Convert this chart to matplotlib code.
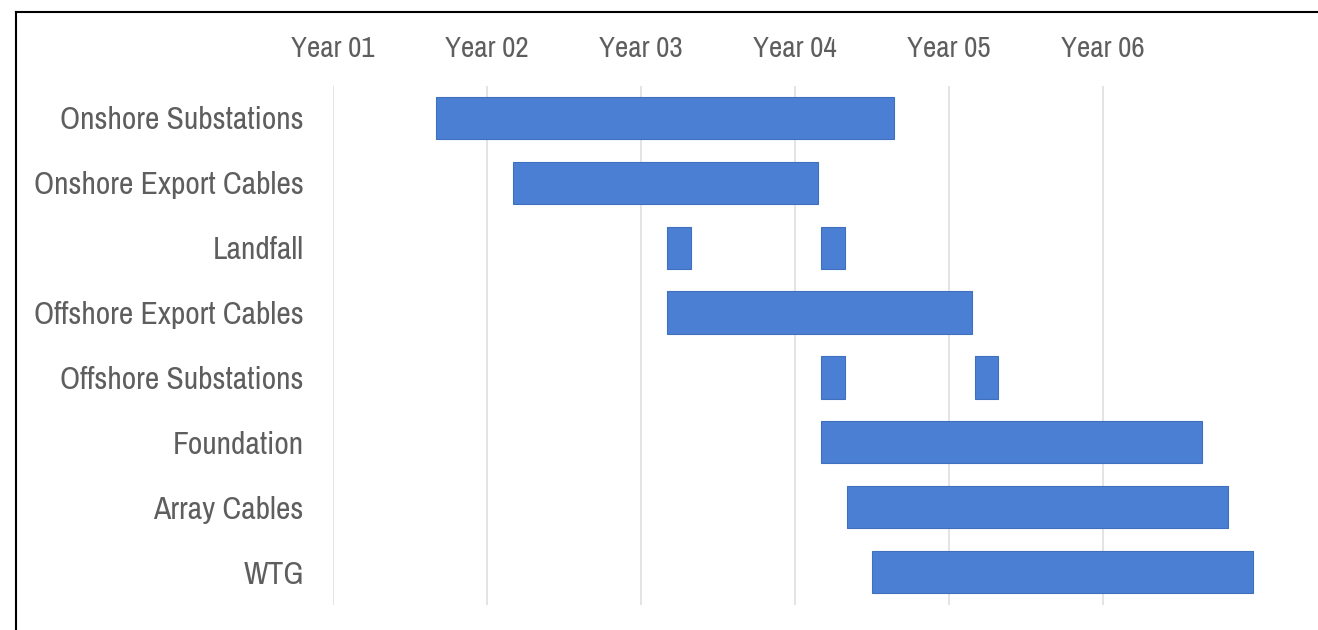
import matplotlib
matplotlib.use("Agg")
import matplotlib.pyplot as plt
from matplotlib.lines import Line2D
from matplotlib import font_manager

tasks = ["Onshore Substations", "Onshore Export Cables", "Landfall",
         "Offshore Export Cables", "Offshore Substations", "Foundation",
         "Array Cables", "WTG"]
# bar segments per task, in months from start of Year 01: (start, end)
seg_starts = [[8.0], [14.0], [26.0, 38.0], [26.0], [38.0, 50.0], [38.0], [40.0], [42.0]]
seg_ends = [[43.7], [37.8], [27.9, 39.9], [49.8], [39.9, 51.8], [67.7], [69.7], [71.7]]
year_labels = ["Year 01", "Year 02", "Year 03", "Year 04", "Year 05", "Year 06"]
year_months = [0, 12, 24, 36, 48, 60]

names = {f.name for f in font_manager.fontManager.ttflist}
fam = ["Liberation Sans Narrow", "Archivo Narrow", "Liberation Sans", "DejaVu Sans"]
fam = [f for f in fam if f in names] or ["DejaVu Sans"]
plt.rcParams['font.family'] = fam

W, H = 1318, 630
fig = plt.figure(figsize=(W / 100, H / 100), dpi=100)
fig.patch.set_facecolor("white")

x0, x1 = 333, 1283
y_top, y_bot = 85.5, 604.5
ax = fig.add_axes([x0 / W, 1 - y_bot / H, (x1 - x0) / W, (y_bot - y_top) / H])

bar_color = "#4a7fd4"
for i, (ss, ee) in enumerate(zip(seg_starts, seg_ends)):
    for s, e in zip(ss, ee):
        ax.barh(i, e - s, left=s, height=0.65, color=bar_color,
                edgecolor="#3f6fbd", linewidth=0.8, zorder=3)

ax.set_ylim(len(tasks) - 0.5, -0.5)
ax.set_xlim(0, 74)
ax.set_yticks(range(len(tasks)))
ax.set_yticklabels(tasks)
ax.set_xticks(year_months)
ax.set_xticklabels(year_labels)
ax.xaxis.tick_top()
ax.tick_params(axis="both", length=0, colors="#5e5e5e")
ax.tick_params(axis="y", pad=21, labelsize=22.8)
ax.tick_params(axis="x", pad=17, labelsize=21)
for sp in ax.spines.values():
    sp.set_visible(False)
ax.grid(axis="x", color="#dcdcdc", linewidth=1.1, zorder=0)
ax.set_axisbelow(True)

# outer border (top and left)
fig.add_artist(Line2D([16 / W, 16 / W], [0, 1 - 12 / H], transform=fig.transFigure,
                      color="black", linewidth=1.5))
fig.add_artist(Line2D([16 / W, 1], [1 - 12 / H, 1 - 12 / H], transform=fig.transFigure,
                      color="black", linewidth=1.5))

fig.savefig("out.png", dpi=100, facecolor="white")
